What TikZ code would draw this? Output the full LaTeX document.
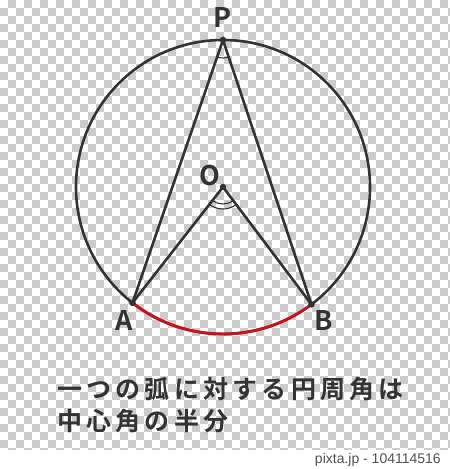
\documentclass[tikz,border=0pt]{standalone}
\usepackage{fontspec}
\newfontfamily\jpfont{Noto Sans CJK JP}[BoldFont={Noto Sans CJK JP Bold}]
\newfontfamily\wmfont{Liberation Sans}
\usetikzlibrary{calc}

\definecolor{ink}{HTML}{333333}
\definecolor{arcred}{HTML}{C8141E}
\definecolor{checker}{HTML}{CCCCCC}

\begin{document}
\begin{tikzpicture}[x=1pt,y=1pt,
    dot/.style={circle, fill=ink, inner sep=0pt, minimum size=6.5pt},
    lbl/.style={font=\jpfont\bfseries\fontsize{27}{27}\selectfont, text=ink, inner sep=0pt},
    chord/.style={draw=ink, line width=2.6pt},
    anglemark/.style={draw=ink, line width=1.1pt},
    caption/.style={font=\jpfont\bfseries\addfontfeatures{LetterSpace=17}\fontsize{25}{25}\selectfont, text=ink, anchor=west, inner sep=0pt}
]
	% background
	\fill[white] (0,0) rectangle (450,469);
	\begin{scope}
	    \clip (0,19) rectangle (450,469);
	    \foreach \i in {0,...,56} {
	        \foreach \j in {0,...,56} {
	            \pgfmathtruncatemacro{\odd}{mod(\i+\j,2)}
	            \ifnum\odd=1 \fill[checker] (8*\i,469-8*\j) rectangle ++(8,-8); \fi
	        }
	    }
	\end{scope}
	
	\coordinate (O) at (223,282);
	\coordinate (P) at ($(O)+(90:147)$);
	\coordinate (A) at ($(O)+(232:147)$);
	\coordinate (B) at ($(O)+(307:147)$);
	
	\draw[chord] (O) circle (147);
	\draw[draw=arcred, line width=2.9pt] (A) arc[start angle=232, end angle=307, radius=147];
	
	\draw[chord] (A) -- (P) -- (B);
	\draw[chord] (A) -- (O) -- (B);
	
	% angle marks
	\draw[anglemark] ($(O)+(232:17)$) arc[start angle=232, end angle=307, radius=17];
	\draw[anglemark] ($(O)+(232:22)$) arc[start angle=232, end angle=307, radius=22];
	\draw[anglemark] ($(P)+(251:18)$) arc[start angle=251, end angle=288.5, radius=18];
	
	\node[dot] (dotP) at (P) {};
	\node[dot] (dotO) at (O) {};
	\node[dot] (dotA) at (A) {};
	\node[dot] (dotB) at (B) {};
	
	\node[lbl] (labelP) at ($(P)+(0,22)$) {P};
	\node[lbl] (labelO) at ($(O)+(-13,11)$) {O};
	\node[lbl] (labelA) at ($(A)+(-8,-18)$) {A};
	\node[lbl] (labelB) at ($(B)+(12,-16)$) {B};
	
	\node[caption] (line1) at (57,80) {一つの弧に対する円周角は};
	\node[caption] (line2) at (57,48) {中心角の半分};
	
	\node[font=\wmfont\fontsize{14}{14}\selectfont, text=ink!85, anchor=east, inner sep=0pt] (credit) at (441,9) {pixta.jp - 104114516};
\end{tikzpicture}
\end{document}
